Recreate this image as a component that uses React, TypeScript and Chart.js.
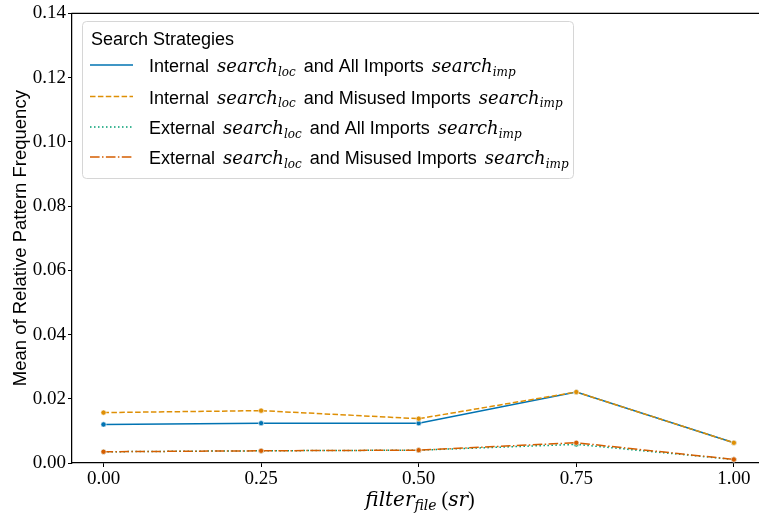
import React, { useEffect, useRef } from "react";
import { Chart, registerables } from "chart.js";

Chart.register(...registerables);

// ---- data ----
const xValues = [0, 0.25, 0.5, 0.75, 1.0];
const xTickLabels = ["0.00", "0.25", "0.50", "0.75", "1.00"];
const yTickValues = [0, 0.02, 0.04, 0.06, 0.08, 0.1, 0.12, 0.14];

const internalAll = [0.012, 0.0124, 0.0124, 0.0221, 0.0063];
const internalMisused = [0.0157, 0.0163, 0.0138, 0.0221, 0.0063];
const externalAll = [0.0035, 0.0038, 0.004, 0.0058, 0.0011];
const externalMisused = [0.0035, 0.0038, 0.004, 0.0063, 0.0011];

const yAxisTitle = "Mean of Relative Pattern Frequency";
const legendTitle = "Search Strategies";

type Part = { t: string; k: "sans" | "it" | "sub" | "rm" };

const seriesLabels: Part[][] = [
  [
    { t: "Internal ", k: "sans" },
    { t: "search", k: "it" },
    { t: "loc", k: "sub" },
    { t: " and All Imports ", k: "sans" },
    { t: "search", k: "it" },
    { t: "imp", k: "sub" },
  ],
  [
    { t: "Internal ", k: "sans" },
    { t: "search", k: "it" },
    { t: "loc", k: "sub" },
    { t: " and Misused Imports ", k: "sans" },
    { t: "search", k: "it" },
    { t: "imp", k: "sub" },
  ],
  [
    { t: "External ", k: "sans" },
    { t: "search", k: "it" },
    { t: "loc", k: "sub" },
    { t: " and All Imports ", k: "sans" },
    { t: "search", k: "it" },
    { t: "imp", k: "sub" },
  ],
  [
    { t: "External ", k: "sans" },
    { t: "search", k: "it" },
    { t: "loc", k: "sub" },
    { t: " and Misused Imports ", k: "sans" },
    { t: "search", k: "it" },
    { t: "imp", k: "sub" },
  ],
];

const xAxisTitle: Part[] = [
  { t: "filter", k: "it" },
  { t: "file", k: "sub" },
  { t: " (", k: "rm" },
  { t: "sr", k: "it" },
  { t: ")", k: "rm" },
];

const seriesValues = [internalAll, internalMisused, externalAll, externalMisused];
const seriesColors = ["#0173b2", "#de8f05", "#029e73", "#d55e00"];
const seriesDashes: number[][] = [[], [5.5, 2.4], [1.5, 2.5], [9.6, 2.4, 1.5, 2.4]];

const SANS = '"Liberation Sans", Arial, sans-serif';
const SERIF = '"Liberation Serif", "Times New Roman", serif';
const MATH = '"DejaVu Serif", serif';

function fontFor(k: Part["k"], size: number, mathSize: number) {
  if (k === "sans") return `${size}px ${SANS}`;
  if (k === "rm") return `${size}px ${SERIF}`;
  if (k === "it") return `italic ${mathSize}px ${MATH}`;
  return `italic ${Math.round(mathSize * 0.68)}px ${MATH}`;
}

function partWidth(ctx: CanvasRenderingContext2D, p: Part, size: number, mathSize: number, mathGap: number) {
  ctx.font = fontFor(p.k, size, mathSize);
  let w = ctx.measureText(p.t).width;
  if (p.k === "sans" && p.t.startsWith(" ")) w += mathGap;
  if (p.k === "sans" && p.t.endsWith(" ")) w += mathGap;
  return w;
}

function measureRich(ctx: CanvasRenderingContext2D, parts: Part[], size: number, mathSize: number, mathGap = 0) {
  let w = 0;
  for (const p of parts) w += partWidth(ctx, p, size, mathSize, mathGap);
  return w;
}

function drawRich(
  ctx: CanvasRenderingContext2D,
  x: number,
  baseline: number,
  parts: Part[],
  size: number,
  mathSize: number,
  mathGap = 0
) {
  let cx = x;
  ctx.textAlign = "left";
  ctx.textBaseline = "alphabetic";
  for (const p of parts) {
    ctx.font = fontFor(p.k, size, mathSize);
    const y = p.k === "sub" ? baseline + mathSize * 0.22 : baseline;
    const lead = p.k === "sans" && p.t.startsWith(" ") ? mathGap : 0;
    ctx.fillText(p.t, cx + lead, y);
    cx += partWidth(ctx, p, size, mathSize, mathGap);
  }
}

const decorPlugin = {
  id: "decor",
  afterDraw(chart: any) {
    const ctx: CanvasRenderingContext2D = chart.ctx;
    const a = chart.chartArea;
    ctx.save();
    // top spine
    ctx.strokeStyle = "#000";
    ctx.lineWidth = 1.25;
    ctx.beginPath();
    ctx.moveTo(a.left - 0.6, a.top);
    ctx.lineTo(a.right, a.top);
    ctx.stroke();

    // legend box
    const bx = 82.5, by = 21.5, bw = 491, bh = 157, r = 4;
    ctx.beginPath();
    ctx.moveTo(bx + r, by);
    ctx.arcTo(bx + bw, by, bx + bw, by + bh, r);
    ctx.arcTo(bx + bw, by + bh, bx, by + bh, r);
    ctx.arcTo(bx, by + bh, bx, by, r);
    ctx.arcTo(bx, by, bx + bw, by, r);
    ctx.closePath();
    ctx.fillStyle = "rgba(255,255,255,0.8)";
    ctx.fill();
    ctx.strokeStyle = "#d6d6d6";
    ctx.lineWidth = 1;
    ctx.stroke();

    ctx.fillStyle = "#000";
    ctx.font = `18px ${SANS}`;
    ctx.textAlign = "left";
    ctx.textBaseline = "alphabetic";
    ctx.fillText(legendTitle, 91, 45);

    const rowY = [65, 96.5, 127, 157];
    seriesLabels.forEach((parts, i) => {
      const y = rowY[i];
      ctx.strokeStyle = seriesColors[i];
      ctx.lineWidth = 1.5;
      ctx.setLineDash(seriesDashes[i]);
      ctx.beginPath();
      ctx.moveTo(90, y);
      ctx.lineTo(133, y);
      ctx.stroke();
      ctx.setLineDash([]);
      ctx.fillStyle = "#000";
      drawRich(ctx, 149, y + 7, parts, 18, 18, 3);
    });

    // x title
    const size = 20;
    const w = measureRich(ctx, xAxisTitle, size, size);
    ctx.fillStyle = "#000";
    drawRich(ctx, 420 - w / 2, 506, xAxisTitle, size, size);
    ctx.restore();
  },
};

export default function App() {
  const ref = useRef<HTMLCanvasElement | null>(null);

  useEffect(() => {
    document.body.style.margin = "0";
    const canvas = ref.current!;
    const chart = new Chart(canvas, {
      type: "line",
      data: {
        datasets: seriesValues.map((vals, i) => ({
          label: seriesLabels[i].map((p) => p.t).join(""),
          data: vals.map((v, j) => ({ x: xValues[j], y: v })),
          borderColor: seriesColors[i],
          backgroundColor: seriesColors[i],
          borderDash: seriesDashes[i],
          borderWidth: 1.5,
          pointRadius: 2.6,
          pointBorderColor: "#ffffff",
          pointBorderWidth: 0.6,
          pointBackgroundColor: seriesColors[i],
          fill: false,
          tension: 0,
          order: 4 - i,
        })),
      },
      options: {
        animation: false,
        responsive: false,
        layout: { padding: { top: 11, right: 2, left: 0, bottom: 0 } },
        plugins: {
          legend: { display: false },
          tooltip: { enabled: false },
        },
        scales: {
          x: {
            type: "linear",
            min: -0.05,
            max: 1.05,
            afterBuildTicks: (s: any) => {
              s.ticks = xValues.map((v) => ({ value: v }));
            },
            afterFit: (s: any) => {
              s.height = 53;
            },
            ticks: {
              callback: (v: any) => {
                const idx = xValues.indexOf(Number(v));
                return idx >= 0 ? xTickLabels[idx] : "";
              },
              font: { family: SERIF, size: 19 },
              color: "#000",
              padding: 1,
              maxRotation: 0,
              autoSkip: false,
            },
            grid: { display: true, drawOnChartArea: false, tickLength: 4, color: "#000", tickWidth: 1 },
            border: { color: "#000", width: 1.25 },
            title: { display: false },
          },
          y: {
            type: "linear",
            min: 0,
            max: 0.14,
            afterBuildTicks: (s: any) => {
              s.ticks = yTickValues.map((v) => ({ value: v }));
            },
            afterFit: (s: any) => {
              s.width = 72;
            },
            ticks: {
              callback: (v: any) => Number(v).toFixed(2),
              font: { family: SERIF, size: 19 },
              color: "#000",
              padding: 2,
              autoSkip: false,
            },
            grid: { display: true, drawOnChartArea: false, tickLength: 4, color: "#000", tickWidth: 1 },
            border: { color: "#000", width: 1.25 },
            title: {
              display: true,
              text: yAxisTitle,
              font: { family: SANS, size: 18.5 },
              color: "#000",
              padding: { top: 10, bottom: 0 },
            },
          },
        },
      },
      plugins: [decorPlugin],
    } as any);
    return () => chart.destroy();
  }, []);

  return (
    <div style={{ width: 759, height: 516, overflow: "hidden", background: "#fff" }}>
      <canvas ref={ref} width={770} height={516} style={{ display: "block" }} />
    </div>
  );
}
